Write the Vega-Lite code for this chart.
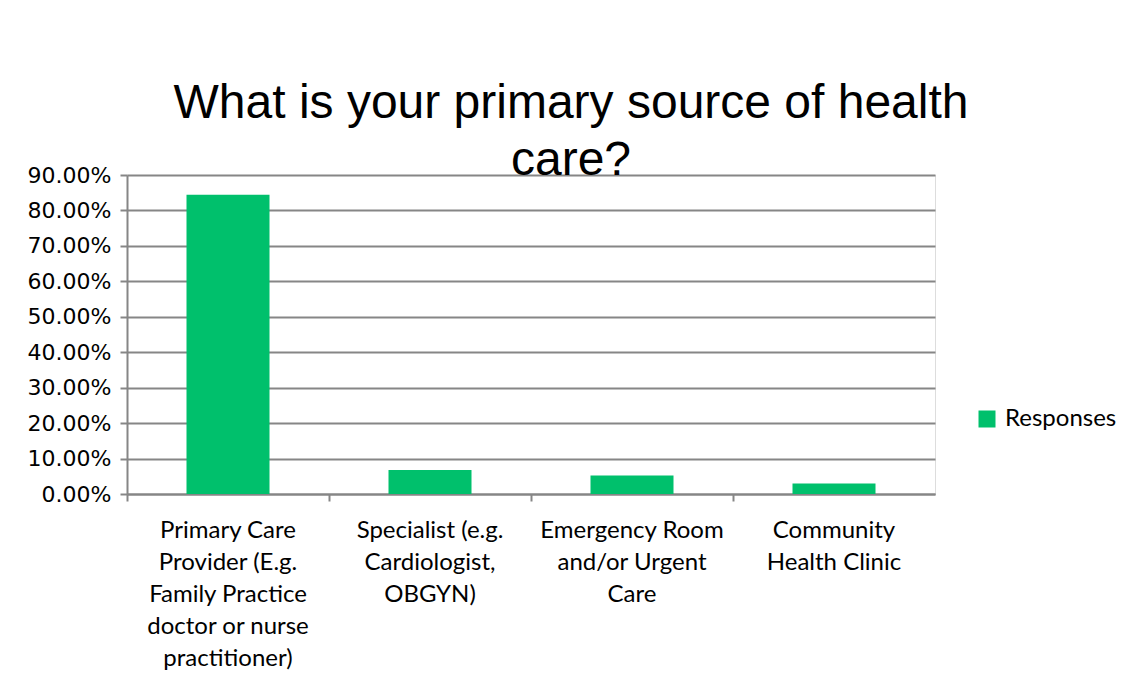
{
  "$schema": "https://vega.github.io/schema/vega-lite/v6.json",
  "width": 808,
  "height": 319,
  "autosize": {"type": "none"},
  "padding": {"left": 127, "top": 175, "right": 191, "bottom": 189},
  "background": "white",
  "title": {
    "text": ["What is your primary source of health", "care?"],
    "fontSize": 48,
    "font": "Liberation Sans",
    "fontWeight": "normal",
    "color": "black",
    "lineHeight": 57,
    "anchor": "middle",
    "dx": 40,
    "baseline": "alphabetic",
    "offset": -59
  },
  "data": {
    "values": [
      {"source": "Primary Care|Provider (E.g.|Family Practice|doctor or nurse|practitioner)", "pct": 0.844},
      {"source": "Specialist (e.g.|Cardiologist,|OBGYN)", "pct": 0.0676},
      {"source": "Emergency Room|and/or Urgent|Care", "pct": 0.0524},
      {"source": "Community|Health Clinic", "pct": 0.0295}
    ]
  },
  "mark": {"type": "bar", "width": 83},
  "encoding": {
    "x": {
      "field": "source",
      "type": "nominal",
      "sort": null,
      "scale": {"paddingInner": 0, "paddingOuter": 0},
      "axis": {
        "title": null,
        "bandPosition": 0,
        "labelAngle": 0,
        "labelExpr": "split(datum.value, '|')",
        "labelLineHeight": 32,
        "labelFont": "Lato",
        "labelFontSize": 24,
        "labelColor": "black",
        "labelBaseline": "top",
        "labelLimit": 0,
        "labelPadding": 17,
        "domainColor": "#868686",
        "domainWidth": 2,
        "tickColor": "#868686",
        "tickWidth": 2,
        "tickSize": 7,
        "grid": false
      }
    },
    "y": {
      "field": "pct",
      "type": "quantitative",
      "scale": {"domain": [0, 0.9], "nice": false},
      "axis": {
        "title": null,
        "format": ".2%",
        "values": [0, 0.1, 0.2, 0.3, 0.4, 0.5, 0.6, 0.7, 0.8, 0.9],
        "grid": true,
        "gridColor": "#868686",
        "gridWidth": 2,
        "domainColor": "#868686",
        "domainWidth": 2,
        "tickColor": "#868686",
        "tickWidth": 2,
        "tickSize": 7,
        "labelFont": "DejaVu Sans",
        "labelFontSize": 22,
        "labelColor": "black",
        "labelPadding": 9
      }
    },
    "color": {
      "datum": "Responses",
      "type": "nominal",
      "scale": {"range": ["#00C06C"]},
      "legend": {
        "title": null,
        "orient": "none",
        "legendX": 848,
        "legendY": 232,
        "symbolType": "square",
        "symbolSize": 289,
        "symbolStrokeWidth": 0,
        "labelFont": "Lato",
        "labelFontSize": 24,
        "labelColor": "black",
        "labelOffset": 6,
        "padding": 0
      }
    }
  }
}
